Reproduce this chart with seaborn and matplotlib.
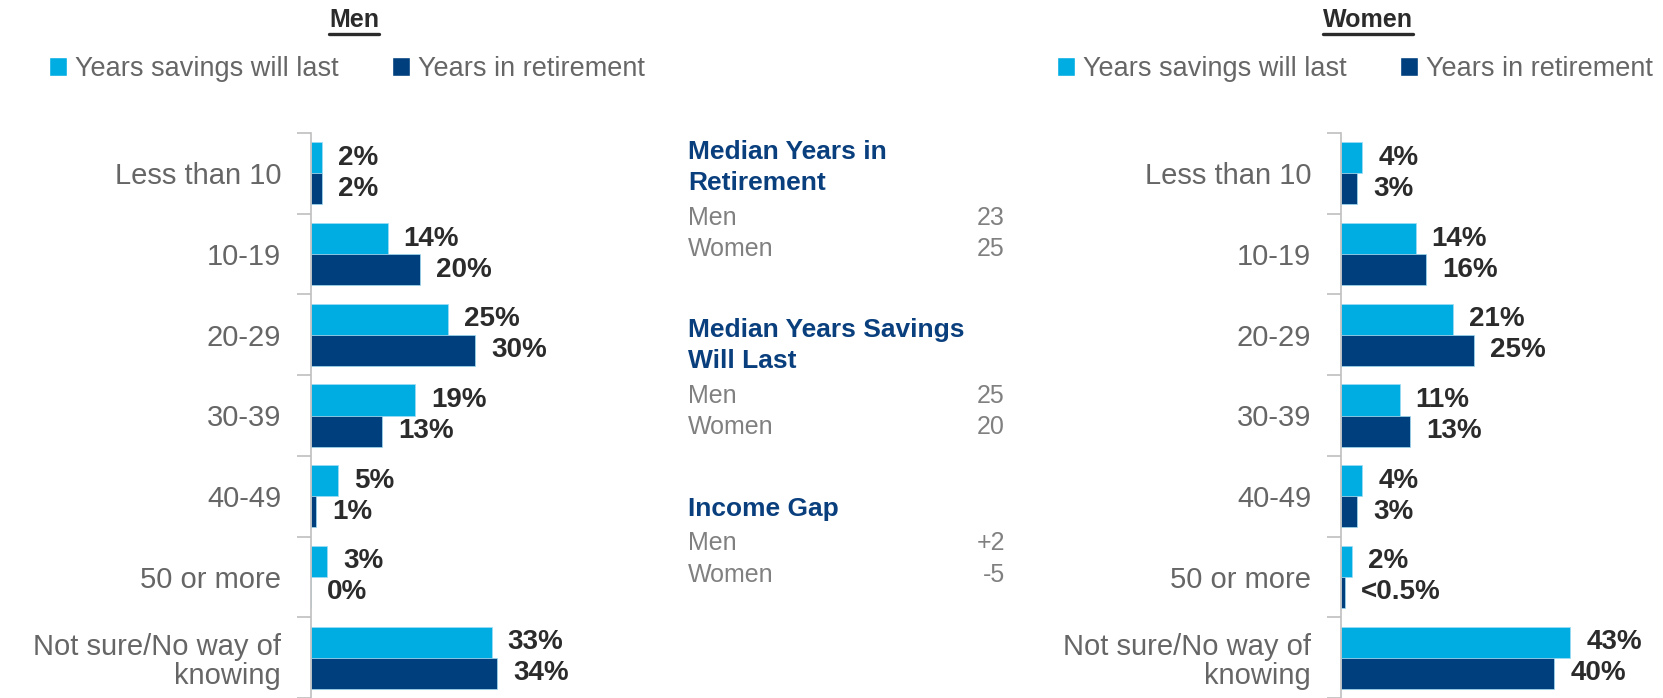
import numpy as np
import pandas as pd
import matplotlib
matplotlib.use("Agg")
import matplotlib.pyplot as plt
from matplotlib.patches import Patch
from matplotlib.lines import Line2D
import seaborn as sns

# Data
categories = ["Less than 10", "10-19", "20-29", "30-39", "40-49", "50 or more",
              "Not sure/No way of\nknowing"]
series = ["Years savings will last", "Years in retirement"]

men_savings = [2, 14, 25, 19, 5, 3, 33]
men_retire = [2, 20, 30, 13, 1, 0, 34]
women_savings = [4, 14, 21, 11, 4, 2, 43]
women_retire = [3, 16, 25, 13, 3, 0.8, 40]

men_savings_labels = ["2%", "14%", "25%", "19%", "5%", "3%", "33%"]
men_retire_labels = ["2%", "20%", "30%", "13%", "1%", "0%", "34%"]
women_savings_labels = ["4%", "14%", "21%", "11%", "4%", "2%", "43%"]
women_retire_labels = ["3%", "16%", "25%", "13%", "3%", "<0.5%", "40%"]

median_retire = ["23", "25"]
median_savings = ["25", "20"]
income_gap = ["+2", "-5"]

CYAN = "#00ADE3"
NAVY = "#003F7D"
BLUE_TXT = "#0A3F7E"
GRAY = "#666666"
LIGHT_GRAY = "#808080"
DARK = "#2B2B2B"

sns.set_style("white")
plt.rcParams["font.family"] = ["Liberation Sans", "DejaVu Sans"]

W, H = 1663, 698
fig = plt.figure(figsize=(W / 100, H / 100), dpi=100)


def make_df(sv, rt):
    return pd.DataFrame({
        "category": categories * 2,
        "value": sv + rt,
        "series": [series[0]] * len(categories) + [series[1]] * len(categories),
    })


def draw_panel(left_px, width_px, px_per_pct, sv, rt, sv_lab, rt_lab, title, title_x, legend_x):
    top_px = 133
    ax = fig.add_axes([left_px / W, 0, width_px / W, 1 - top_px / H])
    df = make_df(sv, rt)
    sns.barplot(data=df, y="category", x="value", hue="series", ax=ax,
                palette=[CYAN, NAVY], saturation=1, width=0.77, gap=0, legend=False,
                edgecolor="#9FDDF3", linewidth=0.5, orient="h")
    ax.set_xlim(0, width_px / px_per_pct)
    ax.set_ylim(6.5, -0.5)
    ax.set_xlabel("")
    ax.set_ylabel("")
    ax.set_xticks([])
    for s in ["top", "right", "bottom"]:
        ax.spines[s].set_visible(False)
    ax.spines["left"].set_color("#BFBFBF")
    ax.spines["left"].set_linewidth(1.2)
    ax.set_yticks(np.arange(-0.5, 7, 1), minor=True)
    ax.tick_params(axis="y", which="minor", length=10, width=1.2, color="#BFBFBF", left=True)
    ax.tick_params(axis="y", which="major", length=0, pad=21.5, labelsize=21, labelcolor=GRAY)
    for t in ax.get_yticklabels():
        t.set_linespacing(1.05)
    for cont, labs in zip(ax.containers, [sv_lab, rt_lab]):
        ax.bar_label(cont, labels=labs, padding=11.5, fontsize=20,
                     fontweight="bold", color=DARK)

    t = fig.text(title_x / W, 1 - 20 / H, title, ha="center", va="center",
                 fontsize=18, fontweight="bold", color=DARK)
    handles = [Patch(facecolor=CYAN, label=series[0]), Patch(facecolor=NAVY, label=series[1])]
    fig.legend(handles=handles, loc="center", bbox_to_anchor=(legend_x / W, 1 - 69 / H),
               ncol=2, frameon=False, fontsize=19.5, labelcolor=GRAY,
               handlelength=0.65, handleheight=0.65, handletextpad=0.3, columnspacing=2.0)
    return ax, t


ax_m, t_m = draw_panel(311, 320, 5.47, men_savings, men_retire,
                       men_savings_labels, men_retire_labels, "Men", 354, 347)
ax_w, t_w = draw_panel(1341, 300, 5.33, women_savings, women_retire,
                       women_savings_labels, women_retire_labels, "Women", 1368, 1355)

# middle summary text
x_left, x_right = 688, 1005


def ftext(x, y, s, **kw):
    fig.text(x / W, 1 - y / H, s, va="center", **kw)


blocks = [
    (["Median Years in", "Retirement"], 152, median_retire),
    (["Median Years Savings", "Will Last"], 330, median_savings),
    (["Income Gap"], 509, income_gap),
]
for lines, y0, vals in blocks:
    y = y0
    for ln in lines:
        ftext(x_left, y, ln, fontsize=19, fontweight="bold", color=BLUE_TXT)
        y += 31.5
    for lab, v in zip(["Men", "Women"], vals):
        ftext(x_left, y + 3, lab, fontsize=18, color=LIGHT_GRAY)
        ftext(x_right, y + 3, v, fontsize=18, color=LIGHT_GRAY, ha="right")
        y += 31

# underline the panel titles
fig.canvas.draw()
r = fig.canvas.get_renderer()
for t in [t_m, t_w]:
    bb = t.get_window_extent(renderer=r)
    yline = bb.y0 - 2
    fig.add_artist(Line2D([bb.x0 / W, bb.x1 / W], [yline / H, yline / H],
                          transform=fig.transFigure, color=DARK, linewidth=2.4))

fig.savefig("out.png", dpi=100)
